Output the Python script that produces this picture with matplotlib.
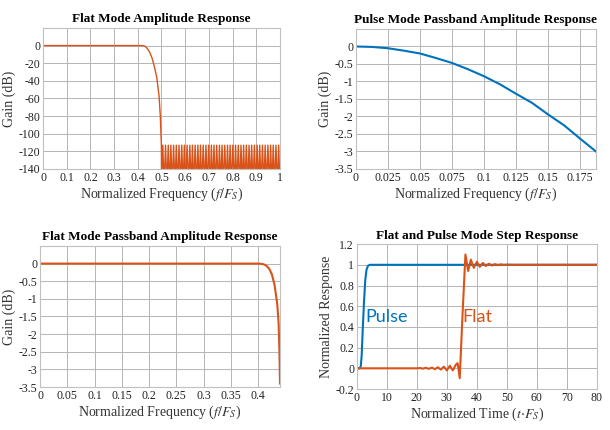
import numpy as np
import matplotlib
matplotlib.use("Agg")
import matplotlib.pyplot as plt

plt.rcParams['font.family'] = ['Liberation Serif', 'DejaVu Serif']
plt.rcParams['mathtext.fontset'] = 'stix'
plt.rcParams['axes.unicode_minus'] = False

BLUE = '#0072BD'
ORANGE = '#D95319'

# flat mode amplitude response (full band)
flat_f = [0, 0.40, 0.42, 0.43, 0.44, 0.45, 0.46, 0.47, 0.48, 0.49, 0.495, 0.4995]
flat_db = [0, 0, -0.1, -0.6, -3.3, -7.5, -14, -24, -36, -58, -80, -113]
# stopband nulls, lobe peaks around -113 dB
stop_nulls = [0.500, 0.511, 0.523, 0.534, 0.545, 0.557, 0.568, 0.580, 0.591, 0.602,
              0.614, 0.625, 0.636, 0.648, 0.659, 0.670, 0.682, 0.693, 0.705, 0.716,
              0.727, 0.739, 0.750, 0.761, 0.773, 0.784, 0.795, 0.807, 0.818, 0.830,
              0.841, 0.852, 0.864, 0.875, 0.886, 0.898, 0.909, 0.920, 0.932, 0.943,
              0.955, 0.966, 0.977, 0.989, 1.000]
stop_peak = -113
stop_null = -160

# pulse mode passband
pulse_f = [0, 0.0125, 0.025, 0.0375, 0.05, 0.0625, 0.075, 0.0875, 0.1, 0.1125,
           0.125, 0.1375, 0.15, 0.1625, 0.175, 0.1875]
pulse_db = [0, -0.013, -0.05, -0.12, -0.2, -0.33, -0.47, -0.65, -0.85, -1.08,
            -1.35, -1.61, -1.94, -2.25, -2.63, -3.0]

# flat mode passband
flatpb_f = [0, 0.40, 0.405, 0.41, 0.415, 0.42, 0.425, 0.43, 0.435, 0.4375, 0.439, 0.44]
flatpb_db = [0, 0, -0.005, -0.02, -0.06, -0.14, -0.3, -0.6, -1.15, -1.7, -2.5, -3.4]

# step responses
pulse_t = [0, 1.0, 1.3, 1.6, 2.0, 2.4, 2.8, 3.2, 3.7, 4.3, 80]
pulse_s = [0, 0, 0.02, 0.12, 0.4, 0.65, 0.85, 0.95, 0.99, 1.0, 1.0]
flat_t = [0, 20, 21, 22, 23, 24, 25, 26, 27, 28, 29, 30, 31, 32, 33, 33.6, 34.3, 35.2,
          36.2, 37.1, 38.0, 39.0, 40.0, 41.0, 42.0, 43.0, 44.0, 45.0, 46.0, 47.0,
          48.0, 49.0, 50.0, 52, 80]
flat_s = [0, 0, 0.003, -0.003, 0.005, -0.005, 0.007, -0.008, 0.01, -0.012, 0.016,
          -0.02, 0.025, -0.02, 0.035, 0.05, -0.095, 0.5, 1.1, 0.94, 1.05, 0.97,
          1.03, 0.98, 1.018, 0.988, 1.01, 0.993, 1.006, 0.996, 1.004, 0.998, 1.002,
          1.0, 1.0]


def style(ax, title, xlabel, ylabel):
    ax.set_title(title, fontsize=9.5, fontweight='bold', pad=4)
    ax.set_xlabel(xlabel, fontsize=10, color='#333333', labelpad=1)
    ax.set_ylabel(ylabel, fontsize=10, color='#333333', labelpad=2)
    ax.grid(True, color='#b4b4b4', lw=0.7)
    ax.set_axisbelow(True)
    for s in ax.spines.values():
        s.set_color('#c0c0c0')
        s.set_linewidth(0.8)
    ax.tick_params(labelsize=8.5, length=0, pad=2, colors='#222222')


fig = plt.figure(figsize=(6.1, 4.3), dpi=100)
ax1 = fig.add_axes([0.0705, 0.607, 0.3885, 0.328])
ax2 = fig.add_axes([0.5836, 0.607, 0.3934, 0.3256])
ax3 = fig.add_axes([0.0656, 0.100, 0.3934, 0.328])
ax4 = fig.add_axes([0.585, 0.0953, 0.3934, 0.337])

flab = r'Normalized Frequency ($f/F_S$)'

# top left
sx = []
sy = []
for a, b in zip(stop_nulls[:-1], stop_nulls[1:]):
    sx += [a, (a + b) / 2]
    sy += [stop_null, stop_peak]
sx.append(stop_nulls[-1])
sy.append(stop_null)
ax1.plot(flat_f + sx, flat_db + sy, color=ORANGE, lw=1.0)
ax1.set_xlim(0, 1)
ax1.set_ylim(-140, 20)
ax1.set_xticks(np.arange(0, 1.01, 0.1))
ax1.set_xticklabels(['0', '0.1', '0.2', '0.3', '0.4', '0.5', '0.6', '0.7', '0.8', '0.9', '1'])
ax1.set_yticks(np.arange(-140, 1, 20))
style(ax1, 'Flat Mode Amplitude Response', flab, 'Gain (dB)')

# top right
ax2.plot(pulse_f, pulse_db, color=BLUE, lw=1.5)
ax2.set_xlim(0, 0.1875)
ax2.set_ylim(-3.5, 0.5)
ax2.set_xticks(np.arange(0, 0.176, 0.025))
ax2.set_xticklabels(['0', '0.025', '0.05', '0.075', '0.1', '0.125', '0.15', '0.175'])
ax2.set_yticks(np.arange(-3.5, 0.01, 0.5))
ax2.set_yticklabels(['-3.5', '-3', '-2.5', '-2', '-1.5', '-1', '-0.5', '0'])
style(ax2, 'Pulse Mode Passband Amplitude Response', flab, 'Gain (dB)')

# bottom left
ax3.plot(flatpb_f, flatpb_db, color=ORANGE, lw=1.5)
ax3.set_xlim(0, 0.44)
ax3.set_ylim(-3.5, 0.5)
ax3.set_xticks(np.arange(0, 0.401, 0.05))
ax3.set_xticklabels(['0', '0.05', '0.1', '0.15', '0.2', '0.25', '0.3', '0.35', '0.4'])
ax3.set_yticks(np.arange(-3.5, 0.01, 0.5))
ax3.set_yticklabels(['-3.5', '-3', '-2.5', '-2', '-1.5', '-1', '-0.5', '0'])
style(ax3, 'Flat Mode Passband Amplitude Response', flab, 'Gain (dB)')

# bottom right
ax4.plot(pulse_t, pulse_s, color=BLUE, lw=1.5)
ax4.plot(flat_t, flat_s, color=ORANGE, lw=1.5)
ax4.set_xlim(0, 80)
ax4.set_ylim(-0.2, 1.2)
ax4.set_xticks(np.arange(0, 81, 10))
ax4.set_yticks(np.arange(-0.2, 1.21, 0.2))
ax4.set_yticklabels(['-0.2', '0', '0.2', '0.4', '0.6', '0.8', '1', '1.2'])
ax4.text(3.0, 0.5, 'Pulse', color=BLUE, fontsize=13, family=['Lato', 'DejaVu Sans'],
         va='center', ha='left')
ax4.text(35.3, 0.5, 'Flat', color=ORANGE, fontsize=13, family=['Lato', 'DejaVu Sans'],
         va='center', ha='left')
style(ax4, 'Flat and Pulse Mode Step Response', r'Normalized Time ($t{\cdot}F_S$)',
      'Normalized Response')

fig.savefig('out.png', dpi=100)
